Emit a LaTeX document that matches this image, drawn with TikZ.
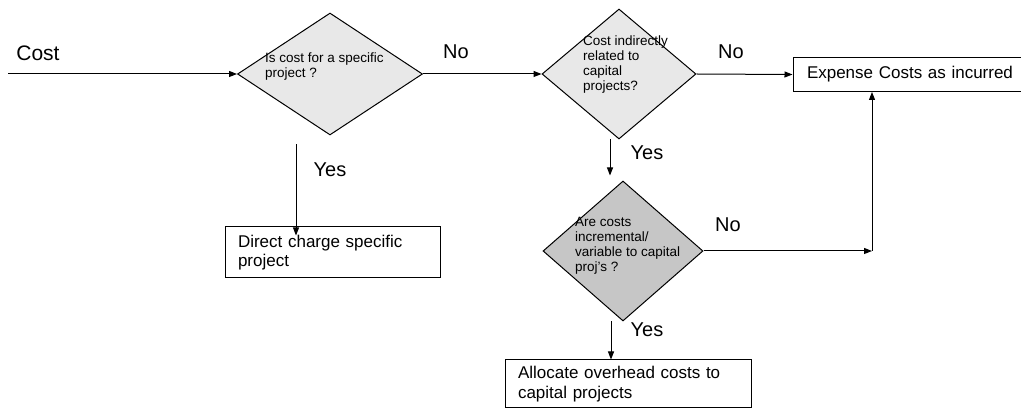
\documentclass[tikz,border=0pt]{standalone}
\usepackage{fontspec}
\setmainfont{Liberation Sans}
\usetikzlibrary{shapes.geometric,arrows.meta}

\begin{document}
\begin{tikzpicture}[x=1pt,y=-1pt,
  dec/.style={diamond, draw, line width=1pt, inner sep=0pt},
  qtext/.style={align=left, inner sep=0pt, anchor=west, font=\fontsize{13.5}{15}\selectfont},
  box/.style={draw, line width=1pt, align=left, inner xsep=13pt, inner ysep=0pt, font=\fontsize{17}{19.5}\selectfont},
  lbl/.style={inner sep=0pt, font=\fontsize{20}{24}\selectfont},
  arr/.style={line width=1pt, -{Triangle[length=8pt,width=6pt]}}]
\useasboundingbox (0,0) rectangle (1021,411);
\node[dec, fill=gray!18, minimum width=185pt, minimum height=122pt] (d1) at (330,74){};
\node[qtext] (t1) at (265,66.5){Is cost for a specific\\project ?};
\node[dec, fill=gray!18, minimum width=154pt, minimum height=130pt] (d2) at (619,74){};
\node[qtext] (t2) at (583,65){Cost indirectly\\related to\\capital\\projects?};
\node[dec, fill=gray!45, minimum width=160pt, minimum height=140pt] (d3) at (623,251){};
\node[qtext] (t3) at (575,246){Are costs\\incremental/\\variable to capital\\proj's ?};
\node[box, text width=189pt, minimum height=51pt] (b1) at (332.5,252.5){Direct charge specific\\project};
\node[box, text width=212pt, inner xsep=14pt, minimum height=34pt] (b2) at (913,74.5){Expense Costs as incurred};
\node[box, text width=220pt, minimum height=48pt] (b3) at (628,384){Allocate overhead costs to\\capital projects};
\coordinate (c0) at (8,74);
\coordinate (c1) at (872,251);
\draw[arr] (c0) -- (d1.west);
\draw[arr] (d1.east) -- (d2.west);
\draw[arr] (d2.east) -- (b2.west);
\draw[arr] ([shift={(-34,9)}]d1.south) -- ([shift={(-34,9)}]d1.south |- b1.north);
\draw[arr, shorten >=5pt] ([xshift=-9pt]d2.south) -- ([xshift=-9pt]d2.south |- d3.north);
\draw[arr] ([xshift=-12pt]d3.south) -- ([xshift=-12pt]d3.south |- b3.north);
\draw[arr] (d3.east) -- (c1);
\draw[arr] (c1) -- (c1 |- b2.south);
\node[lbl, font=\fontsize{21}{24}\selectfont] (cost) at (38,53){Cost};
\node[lbl] (n1) at (456,52){No};
\node[lbl] (n2) at (731,52){No};
\node[lbl] (n3) at (728,225){No};
\node[lbl] (y1) at (330,170){Yes};
\node[lbl] (y2) at (647,153){Yes};
\node[lbl] (y3) at (647,330){Yes};
\end{tikzpicture}
\end{document}
